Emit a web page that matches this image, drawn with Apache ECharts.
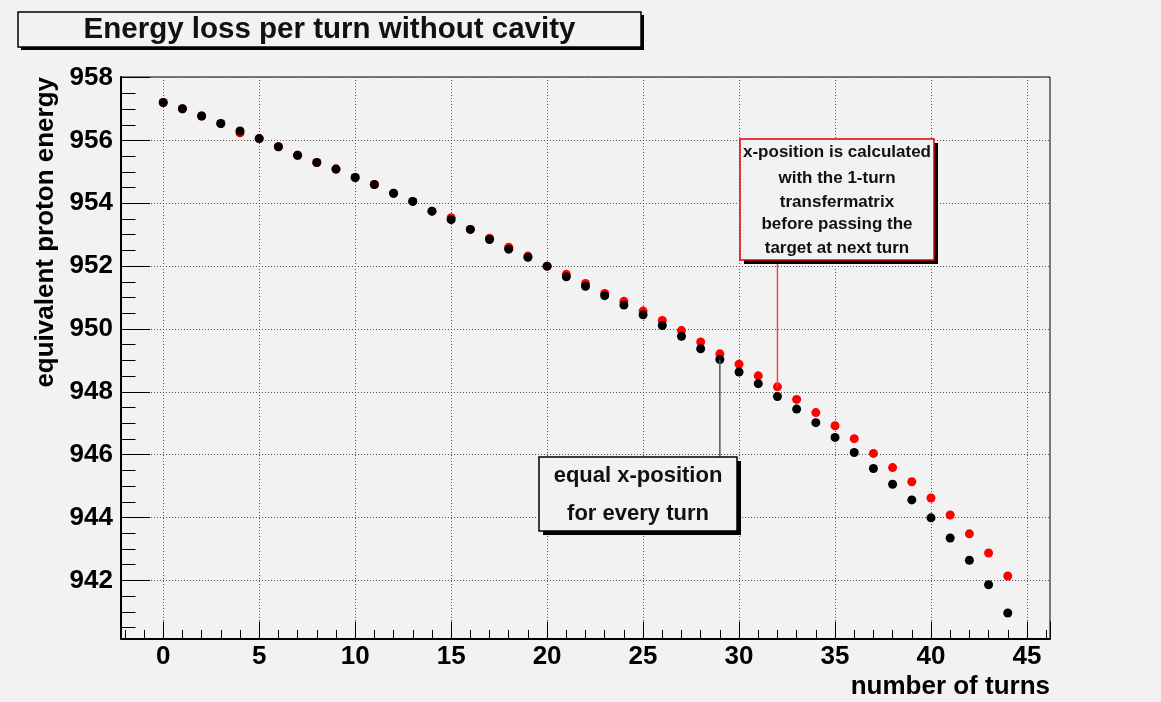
<!DOCTYPE html>
<html><head><meta charset="utf-8">
<script src="https://cdn.jsdelivr.net/npm/echarts@6/dist/echarts.min.js"></script>
<style>html,body{margin:0;padding:0;background:#f2f2f2}#c{width:1161px;height:702px}</style>
</head><body><div id="c"></div>
<script>
// ---- data ----
const turns = [0,1,2,3,4,5,6,7,8,9,10,11,12,13,14,15,16,17,18,19,20,21,22,23,24,25,26,27,28,29,30,31,32,33,34,35,36,37,38,39,40,41,42,43,44];
// black: equal x-position for every turn
const energyEqualX = [957.21,957.01,956.78,956.54,956.30,956.06,955.80,955.53,955.30,955.09,954.82,954.60,954.32,954.06,953.75,953.48,953.17,952.85,952.54,952.28,952.00,951.66,951.36,951.06,950.76,950.45,950.11,949.77,949.37,949.03,948.63,948.26,947.85,947.45,947.02,946.55,946.07,945.56,945.06,944.56,943.99,943.35,942.64,941.86,940.96];
// red: x-position from 1-turn transfer matrix
const energyTransfer = [957.21,957.01,956.78,956.54,956.24,956.06,955.80,955.53,955.30,955.09,954.82,954.60,954.32,954.06,953.75,953.54,953.17,952.89,952.60,952.32,952.00,951.74,951.45,951.13,950.88,950.57,950.27,949.95,949.59,949.21,948.88,948.51,948.16,947.76,947.34,946.92,946.51,946.04,945.59,945.14,944.62,944.08,943.48,942.87,942.14];
const xTickLabels = [0,5,10,15,20,25,30,35,40,45];
const yTickLabels = [942,944,946,948,950,952,954,956,958];
const titleText = 'Energy loss per turn without cavity';
const xName = 'number of turns';
const yName = 'equivalent proton energy';
const note1 = ['x-position is calculated','with the 1-turn','transfermatrix','before passing the','target at next turn'];
const note2 = ['equal x-position','for every turn'];

const FONT = "'Liberation Sans', Arial, Helvetica, sans-serif";
const BG = '#f2f2f2';
function inList(list, v){ return list.some(t => Math.abs(t - v) < 1e-6); }

const chart = echarts.init(document.getElementById('c'), null, {renderer:'canvas'});
chart.setOption({
  animation: false,
  backgroundColor: BG,
  textStyle: {fontFamily: FONT},
  grid: {left: 121, top: 77, right: 111, bottom: 63.5, show: true, borderColor: '#000', borderWidth: 1, backgroundColor: 'transparent', containLabel: false},
  xAxis: {
    type: 'value', min: -2.2, max: 46.2, splitNumber: 10, minInterval: 5, maxInterval: 5,
    name: xName, nameLocation: 'end', nameGap: 0,
    nameTextStyle: {fontFamily: FONT, fontSize: 26, fontWeight: 'bold', color: '#000', align: 'right', verticalAlign: 'top', padding: [35,0,0,0]},
    axisLine: {show: true, onZero: false, lineStyle: {color: '#000', width: 2}},
    axisTick: {show: true, inside: true, length: 17, lineStyle: {color: '#000', width: 1}},
    minorTick: {show: true, splitNumber: 5, length: 8.5, lineStyle: {color: '#000', width: 1}},
    splitLine: {show: true, showMinLine: false, showMaxLine: false, lineStyle: {color: '#555', type: [1,2], width: 1}},
    axisLabel: {fontFamily: FONT, fontSize: 26, fontWeight: 'bold', color: '#000', margin: 5,
      formatter: v => inList(xTickLabels, v) ? String(Math.round(v)) : ''}
  },
  yAxis: {
    type: 'value', min: 940.15, max: 958.02, splitNumber: 9, minInterval: 2, maxInterval: 2,
    name: yName, nameLocation: 'end', nameGap: 0, nameRotate: 90,
    nameTextStyle: {fontFamily: FONT, fontSize: 26, fontWeight: 'bold', color: '#000', align: 'right', verticalAlign: 'bottom', padding: [0,0,62,0]},
    axisLine: {show: true, onZero: false, lineStyle: {color: '#000', width: 2}},
    axisTick: {show: true, inside: true, length: 29, lineStyle: {color: '#000', width: 1}},
    minorTick: {show: true, splitNumber: 4, length: 14.5, lineStyle: {color: '#000', width: 1}},
    splitLine: {show: true, showMinLine: false, showMaxLine: false, lineStyle: {color: '#555', type: [1,2], width: 1}},
    axisLabel: {fontFamily: FONT, fontSize: 26, fontWeight: 'bold', color: '#000', margin: 8,
      formatter: v => inList(yTickLabels, v) ? String(Math.round(v)) : ''}
  },
  series: [
    {name: 'transfer matrix', type: 'scatter', symbol: 'circle', symbolSize: 9, z: 3,
     itemStyle: {color: '#ff0000', opacity: 1}, data: turns.map((t,i) => [t, energyTransfer[i]])},
    {name: 'equal x-position', type: 'scatter', symbol: 'circle', symbolSize: 9, z: 4,
     itemStyle: {color: '#000000', opacity: 1}, data: turns.map((t,i) => [t, energyEqualX[i]])}
  ]
});

const p32 = chart.convertToPixel({gridIndex: 0}, [turns[32], energyTransfer[32]]);
const p29 = chart.convertToPixel({gridIndex: 0}, [turns[29], energyEqualX[29]]);

function pave(x, y, w, h, stroke, lines, fontSize, lineYs, off){
  const els = [
    {type: 'rect', z: 100, shape: {x: x + off, y: y + off, width: w, height: h}, style: {fill: '#000'}},
    {type: 'rect', z: 101, shape: {x: x, y: y, width: w, height: h}, style: {fill: BG, stroke: stroke, lineWidth: 1.5}}
  ];
  lines.forEach((t, i) => els.push({type: 'text', z: 102, x: x + w/2, y: lineYs[i],
    style: {text: t, font: 'bold ' + fontSize + 'px ' + FONT, fill: '#111', align: 'center', verticalAlign: 'middle'}}));
  return els;
}

const graphics = [];
graphics.push(...pave(18, 12, 623, 35, '#000', [titleText], 29.5, [30], 3));
graphics.push({type: 'line', z: 5, shape: {x1: p32[0], y1: 260, x2: p32[0], y2: p32[1]}, style: {stroke: '#e65050', lineWidth: 1.5}});
graphics.push(...pave(740, 139, 194, 121, '#e00000', note1, 17, [152, 178, 202, 224.5, 248.5], 4));
graphics.push({type: 'line', z: 5, shape: {x1: p29[0], y1: p29[1], x2: p29[0], y2: 457}, style: {stroke: '#555', lineWidth: 1.5}});
graphics.push(...pave(539, 457, 198, 74, '#000', note2, 22, [476, 513.5], 4));
chart.setOption({graphic: graphics});
</script>
</body></html>
